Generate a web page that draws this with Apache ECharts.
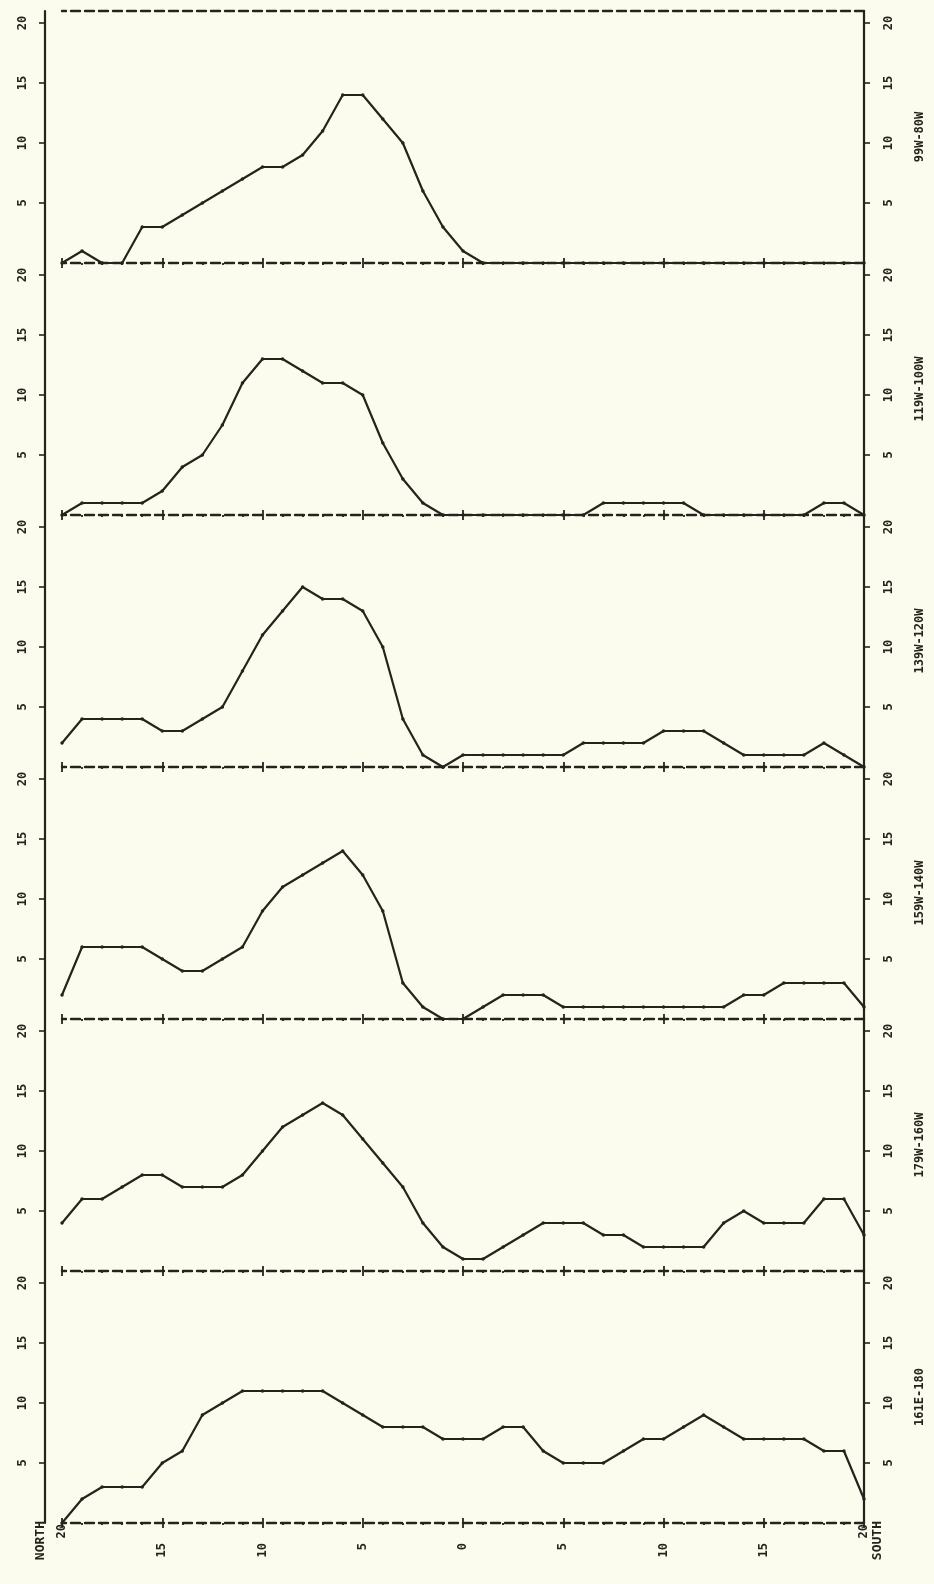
<!DOCTYPE html>
<html>
<head>
<meta charset="utf-8">
<script src="https://cdn.jsdelivr.net/npm/echarts@6/dist/echarts.min.js"></script>
<style>
html,body{margin:0;padding:0;background:#fcfcee;}
#c{width:934px;height:1584px;}
</style>
</head>
<body>
<div id="c"></div>
<script>
// Latitude categories, 20N (positive) to 20S (negative)
const latitudes = [20,19,18,17,16,15,14,13,12,11,10,9,8,7,6,5,4,3,2,1,0,-1,-2,-3,-4,-5,-6,-7,-8,-9,-10,-11,-12,-13,-14,-15,-16,-17,-18,-19,-20];
const yTickValues = [5,10,15,20];
const panelNames = ['99W-80W','119W-100W','139W-120W','159W-140W','179W-160W','161E-180'];

const band99W_80W   = [0,1,0,0,3,3,4,5,6,7,8,8,9,11,14,14,12,10,6,3,1, 0,0,0,0,0,0,0,0,0,0,0,0,0,0,0,0,0,0,0,0];
const band119W_100W = [0,1,1,1,1,2,4,5,7.5,11,13,13,12,11,11,10,6,3,1,0,0, 0,0,0,0,0,0,1,1,1,1,1,0,0,0,0,0,0,1,1,0];
const band139W_120W = [2,4,4,4,4,3,3,4,5,8,11,13,15,14,14,13,10,4,1,0,1, 1,1,1,1,1,2,2,2,2,3,3,3,2,1,1,1,1,2,1,0];
const band159W_140W = [2,6,6,6,6,5,4,4,5,6,9,11,12,13,14,12,9,3,1,0,0, 1,2,2,2,1,1,1,1,1,1,1,1,1,2,2,3,3,3,3,1];
const band179W_160W = [4,6,6,7,8,8,7,7,7,8,10,12,13,14,13,11,9,7,4,2,1, 1,2,3,4,4,4,3,3,2,2,2,2,4,5,4,4,4,6,6,3];
const band161E_180  = [0,2,3,3,3,5,6,9,10,11,11,11,11,11,10,9,8,8,8,7,7, 7,8,8,6,5,5,5,6,7,7,8,9,8,7,7,7,7,6,6,2];

const panels = [band99W_80W, band119W_100W, band139W_120W, band159W_140W, band179W_160W, band161E_180];

const INK = '#24241d';
const FONT = 'DejaVu Sans Mono';
const labelStyle = {color: INK, fontFamily: FONT, fontWeight: 'bold', fontSize: 12};
const DASH = [9, 5];

const grids = [], xAxes = [], yAxes = [], series = [];
panels.forEach((vals, i) => {
  const top = 11 + 252 * i;
  const isLast = i === panels.length - 1;
  grids.push({left: 62, width: 804, top: top, height: 252, containLabel: false});

  // bottom baseline: dashed line, outward ticks, degree minor ticks, labels
  xAxes.push({
    gridIndex: i, type: 'value', min: -20, max: 20, interval: 5, inverse: true, position: 'bottom',
    axisLine: {show: true, onZero: false, lineStyle: {color: INK, width: 2.4, type: DASH}},
    axisTick: {show: true, length: 5, lineStyle: {color: INK, width: 1.8}},
    minorTick: {show: true, splitNumber: 5, length: 2, lineStyle: {color: INK, width: 1.8}},
    axisLabel: Object.assign({show: isLast, rotate: 90, margin: 20, showMinLabel: true, showMaxLabel: true,
      formatter: v => Math.abs(v) === 20 ? '' : String(Math.abs(v))}, labelStyle),
    splitLine: {show: false}
  });
  // inward half of the '+' ticks and the end labels
  xAxes.push({
    gridIndex: i, type: 'value', min: -20, max: 20, interval: 5, inverse: true, position: 'bottom',
    axisLine: {show: false, onZero: false},
    axisTick: {show: true, inside: true, length: 5, lineStyle: {color: INK, width: 1.8}},
    axisLabel: Object.assign({show: isLast, rotate: 90, margin: 1, showMinLabel: true, showMaxLabel: true,
      formatter: v => Math.abs(v) === 20 ? '20' : ''}, labelStyle),
    splitLine: {show: false}
  });
  const xIndex = xAxes.length - 2;
  if (i === 0) {
    xAxes.push({
      gridIndex: i, type: 'value', min: -20, max: 20, interval: 5, inverse: true, position: 'top',
      axisLine: {show: true, onZero: false, lineStyle: {color: INK, width: 2.4, type: DASH}},
      axisTick: {show: false}, axisLabel: {show: false}, splitLine: {show: false}
    });
  }

  yAxes.push({
    gridIndex: i, type: 'value', min: 0, max: 21, interval: 5, position: 'left', offset: 17,
    axisLine: {show: true, onZero: false, lineStyle: {color: INK, width: 2.2}},
    axisTick: {show: true, length: 6, customValues: yTickValues, lineStyle: {color: INK, width: 1.6}},
    axisLabel: Object.assign({rotate: 90, margin: 16, customValues: yTickValues,
      formatter: v => (v > 0 && v % 5 === 0) ? String(v) : ''}, labelStyle),
    splitLine: {show: false}
  });
  const yIndex = yAxes.length - 1;
  yAxes.push({
    gridIndex: i, type: 'value', min: 0, max: 21, interval: 5, position: 'right', offset: 0,
    name: panelNames[i], nameLocation: 'middle', nameRotate: 90, nameGap: 50,
    nameTextStyle: Object.assign({}, labelStyle),
    axisLine: {show: true, onZero: false, lineStyle: {color: INK, width: 2.2}},
    axisTick: {show: true, length: 6, customValues: yTickValues, lineStyle: {color: INK, width: 1.6}},
    axisLabel: Object.assign({rotate: 90, margin: 19, customValues: yTickValues,
      formatter: v => (v > 0 && v % 5 === 0) ? String(v) : ''}, labelStyle),
    splitLine: {show: false}
  });

  series.push({
    type: 'line', xAxisIndex: xIndex, yAxisIndex: yIndex,
    data: latitudes.map((lat, k) => [lat, vals[k]]),
    symbol: 'circle', symbolSize: 3.5, showSymbol: true,
    itemStyle: {color: INK}, lineStyle: {color: INK, width: 2.2},
    animation: false, z: 5, silent: true
  });
});

const chart = echarts.init(document.getElementById('c'), null, {renderer: 'canvas'});
chart.setOption({
  backgroundColor: '#fcfcee',
  animation: false,
  grid: grids, xAxis: xAxes, yAxis: yAxes, series: series,
  graphic: [
    {type: 'text', x: 41, y: 1521, rotation: Math.PI / 2,
     style: {text: 'NORTH', fill: INK, font: 'bold 13px "DejaVu Sans Mono"', align: 'right', verticalAlign: 'middle', textAlign: 'right', textVerticalAlign: 'middle'}},
    {type: 'text', x: 878, y: 1521, rotation: Math.PI / 2,
     style: {text: 'SOUTH', fill: INK, font: 'bold 13px "DejaVu Sans Mono"', align: 'right', verticalAlign: 'middle', textAlign: 'right', textVerticalAlign: 'middle'}}
  ]
});
</script>
</body>
</html>
